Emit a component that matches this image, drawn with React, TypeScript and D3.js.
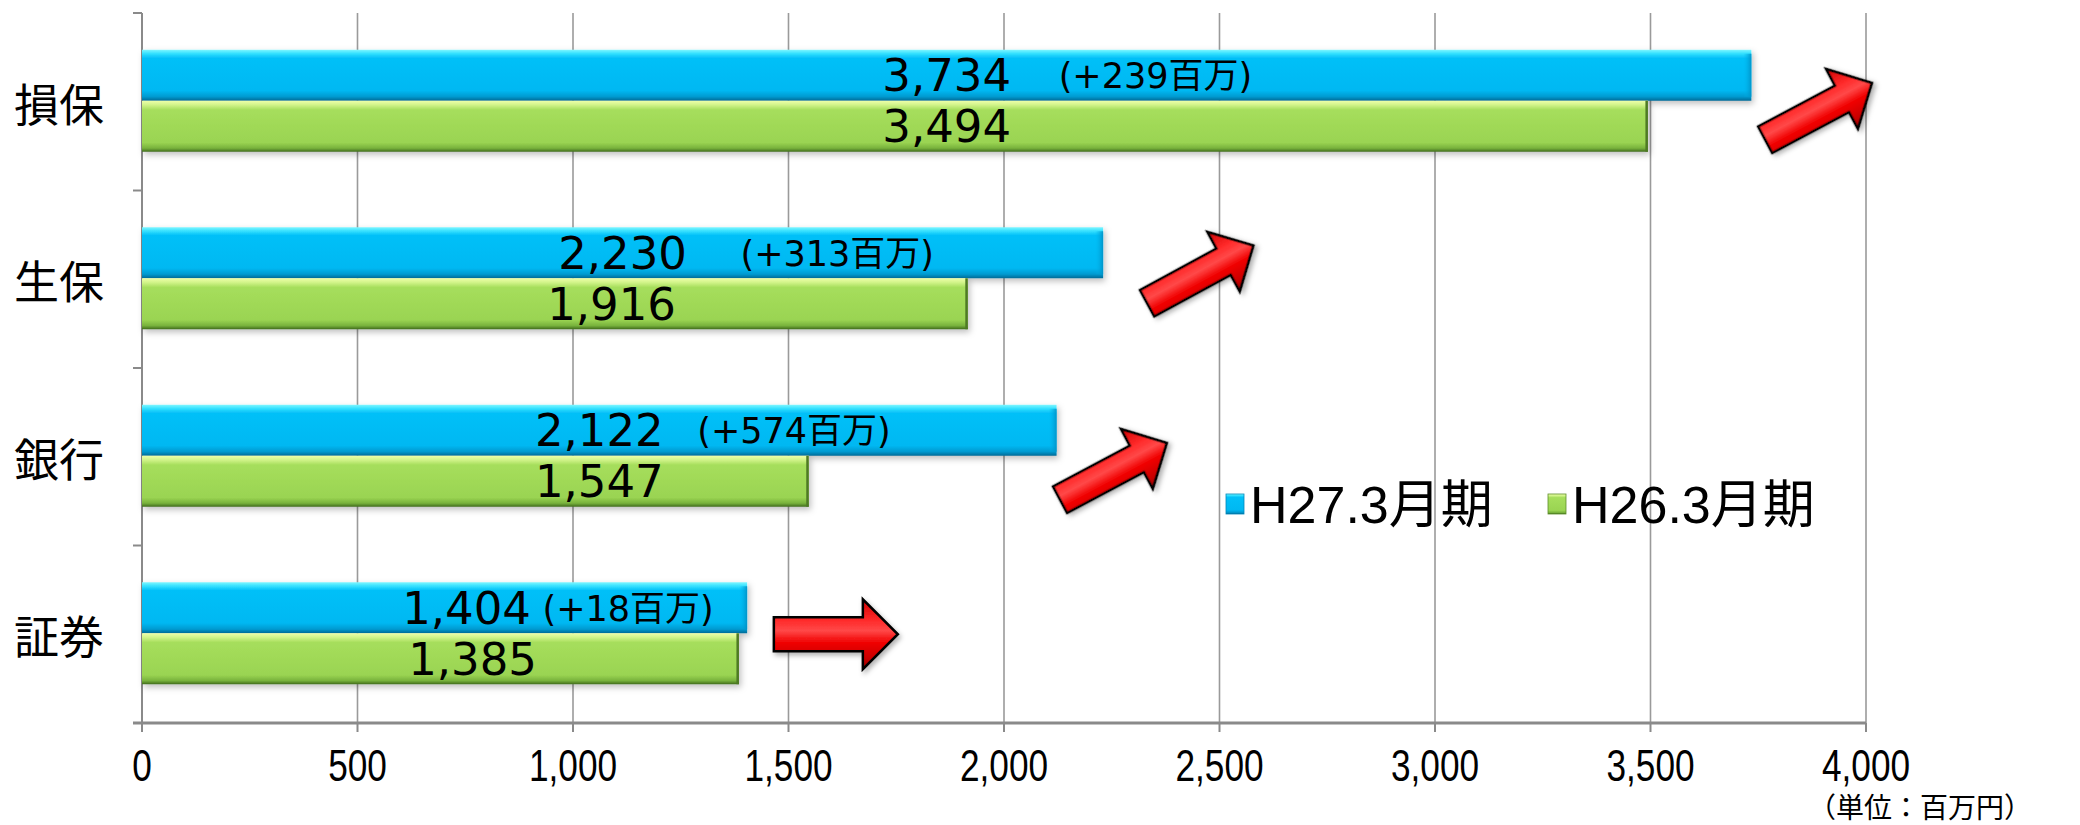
import React from "react";
import * as d3 from "d3";

// ---- data ----
const categories = ["損保", "生保", "銀行", "証券"];
const seriesNames = ["H27.3月期", "H26.3月期"];
const valuesH27 = [3734, 2230, 2122, 1404];
const valuesH26 = [3494, 1916, 1547, 1385];
const changeLabels = ["(+239百万)", "(+313百万)", "(+574百万)", "(+18百万)"];
const xTicks = [0, 500, 1000, 1500, 2000, 2500, 3000, 3500, 4000];
const unitLabel = "（単位：百万円）";

// ---- layout (not data) ----
const W = 2080;
const H = 825;
const plot = { left: 142, right: 1866, top: 13, bottom: 723 };
const barH = 51;
const labelDxBlue = [0, 0, 0, 22];
const labelDxGreen = [0, -11, 0, 28];
const annoDx = [112, 118, 98, 76];
// arrows: tail x in value units, y offset from band center, angle in degrees
const arrows = [
  { v: 3766, dy: 38, angle: -28, len: 121, s: 15, h: 34, hl: 34 },
  { v: 2332, dy: 24, angle: -28.5, len: 121, s: 15, h: 34, hl: 34 },
  { v: 2130, dy: 43, angle: -28, len: 121, s: 15, h: 34, hl: 34 },
  { v: 1466, dy: 0, angle: 0, len: 124, s: 17, h: 35, hl: 35 },
];

const fmt = d3.format(",");
const numFont = "'DejaVu Sans', 'Noto Sans CJK JP', sans-serif";
const tickFont = "'Liberation Sans', Arial, sans-serif";
const cjkFont = "'Noto Sans CJK JP', sans-serif";

export default function App() {
  const x = d3.scaleLinear().domain([0, 4000]).range([plot.left, plot.right]);
  const y = d3
    .scaleBand<string>()
    .domain(categories)
    .range([plot.top, plot.bottom])
    .paddingInner(0)
    .paddingOuter(0);
  const step = y.step();
  const boundaries = d3.range(categories.length + 1).map((i) => plot.top + i * step);

  const arrowPath = (a: typeof arrows[0]) =>
    `M0,${-a.s} L${a.len - a.hl},${-a.s} L${a.len - a.hl},${-a.h} L${a.len},0 L${a.len - a.hl},${a.h} L${a.len - a.hl},${a.s} L0,${a.s} Z`;

  return (
    <svg
      width={W}
      height={H}
      style={{ position: "absolute", left: 0, top: 0, background: "#fff" }}
    >
      <defs>
        <linearGradient id="gBlue" x1="0" y1="0" x2="0" y2="1">
          <stop offset="0" stopColor="#7FF6FF" />
          <stop offset="0.07" stopColor="#38E2FF" />
          <stop offset="0.16" stopColor="#02C0F8" />
          <stop offset="0.8" stopColor="#00B8F2" />
          <stop offset="0.92" stopColor="#009AD0" />
          <stop offset="1" stopColor="#006A96" />
        </linearGradient>
        <linearGradient id="gGreen" x1="0" y1="0" x2="0" y2="1">
          <stop offset="0" stopColor="#EEFFAA" />
          <stop offset="0.08" stopColor="#D2F48A" />
          <stop offset="0.18" stopColor="#A6DE5C" />
          <stop offset="0.82" stopColor="#9AD452" />
          <stop offset="0.93" stopColor="#78B23C" />
          <stop offset="1" stopColor="#3F6B1C" />
        </linearGradient>
        <linearGradient id="gBlueEnd" x1="0" y1="0" x2="1" y2="0">
          <stop offset="0" stopColor="#00B6EE" stopOpacity="0" />
          <stop offset="1" stopColor="#0090C4" stopOpacity="0.9" />
        </linearGradient>
        <filter id="shadow" x="-10%" y="-30%" width="120%" height="170%">
          <feDropShadow dx="2" dy="3" stdDeviation="3" floodColor="#000" floodOpacity="0.25" />
        </filter>
        <filter id="ashadow" x="-20%" y="-40%" width="140%" height="180%">
          <feDropShadow dx="2" dy="3" stdDeviation="2.5" floodColor="#000" floodOpacity="0.3" />
        </filter>
        {arrows.map((a, i) => (
          <linearGradient
            key={i}
            id={`gArrow${i}`}
            gradientUnits="userSpaceOnUse"
            x1="0"
            y1={-a.h}
            x2="0"
            y2={a.h}
          >
            <stop offset="0" stopColor="#D00000" />
            <stop offset="0.3" stopColor="#FF2A2A" />
            <stop offset="0.45" stopColor="#FF4848" />
            <stop offset="0.62" stopColor="#F00000" />
            <stop offset="0.85" stopColor="#C80000" />
            <stop offset="1" stopColor="#900000" />
          </linearGradient>
        ))}
      </defs>

      {/* gridlines */}
      {xTicks.slice(1).map((t) => (
        <line
          key={`g${t}`}
          x1={x(t)}
          x2={x(t)}
          y1={plot.top}
          y2={plot.bottom}
          stroke="#9a9a9a"
          strokeWidth={1.6}
        />
      ))}

      {/* y axis */}
      <line x1={plot.left} x2={plot.left} y1={plot.top} y2={plot.bottom} stroke="#8a8a8a" strokeWidth={2} />
      {boundaries.map((b, i) => (
        <line key={`yt${i}`} x1={plot.left - 9} x2={plot.left} y1={b} y2={b} stroke="#8a8a8a" strokeWidth={2} />
      ))}
      {/* x axis */}
      <line x1={plot.left - 9} x2={plot.right} y1={plot.bottom} y2={plot.bottom} stroke="#8a8a8a" strokeWidth={3} />
      {xTicks.map((t) => (
        <line key={`xt${t}`} x1={x(t)} x2={x(t)} y1={plot.bottom} y2={plot.bottom + 9} stroke="#8a8a8a" strokeWidth={2} />
      ))}
      {xTicks.map((t) => (
        <g key={`xl${t}`} transform={`translate(${x(t)},781) scale(0.8,1)`}>
          <text x={0} y={0} textAnchor="middle" fontFamily={tickFont} fontSize={44} fill="#000">
            {fmt(t)}
          </text>
        </g>
      ))}

      {/* category labels */}
      {categories.map((c) => (
        <text
          key={`c${c}`}
          x={104}
          y={(y(c) as number) + step / 2 + 20}
          textAnchor="end"
          fontFamily={cjkFont}
          fontSize={45}
          fill="#000"
        >
          {c}
        </text>
      ))}

      {/* bars */}
      {categories.map((c, i) => {
        const cy = (y(c) as number) + step / 2 - 1;
        const x0 = x(0);
        const xb = x(valuesH27[i]);
        const xg = x(valuesH26[i]);
        return (
          <g key={`b${c}`}>
            <g filter="url(#shadow)">
              <rect x={x0} y={cy - barH} width={xb - x0} height={barH} fill="url(#gBlue)" />
              <rect x={x0} y={cy} width={xg - x0} height={barH} fill="url(#gGreen)" />
            </g>
            <rect x={xb - 8} y={cy - barH + 4} width={8} height={barH - 8} fill="url(#gBlueEnd)" />
            <rect x={xg - 2.5} y={cy} width={2.5} height={barH} fill="#4E7A24" />
          </g>
        );
      })}

      {/* value labels */}
      {categories.map((c, i) => {
        const cy = (y(c) as number) + step / 2 - 1;
        const cxB = (x(0) + x(valuesH27[i])) / 2;
        const lxB = cxB + labelDxBlue[i];
        const lxG = cxB + labelDxGreen[i];
        return (
          <g key={`l${c}`} fontFamily={numFont} fill="#000">
            <text x={lxB} y={cy - barH / 2 + 16} textAnchor="middle" fontSize={45}>
              {fmt(valuesH27[i])}
            </text>
            <text x={lxB + annoDx[i]} y={cy - barH / 2 + 13} textAnchor="start" fontSize={35}>
              {changeLabels[i]}
            </text>
            <text x={lxG} y={cy + barH / 2 + 16} textAnchor="middle" fontSize={45}>
              {fmt(valuesH26[i])}
            </text>
          </g>
        );
      })}

      {/* arrows */}
      {arrows.map((a, i) => {
        const c = categories[i];
        const tx = x(a.v);
        const ty = (y(c) as number) + step / 2 + a.dy;
        return (
          <g key={`a${i}`} transform={`translate(${tx},${ty}) rotate(${a.angle})`} filter="url(#ashadow)">
            <path d={arrowPath(a)} fill={`url(#gArrow${i})`} stroke="#000" strokeWidth={2.5} strokeLinejoin="miter" />
          </g>
        );
      })}

      {/* legend */}
      <g>
        <rect x={1226} y={494} width={18} height={20} fill="url(#gBlue)" stroke="#0088BB" strokeWidth={0.8} />
        <text x={1250} y={523} fontFamily={"'Liberation Sans', 'Noto Sans CJK JP', sans-serif"} fontSize={52} fill="#000">
          {seriesNames[0]}
        </text>
        <rect x={1548} y={494} width={18} height={20} fill="url(#gGreen)" stroke="#5E8E2A" strokeWidth={0.8} />
        <text x={1572} y={523} fontFamily={"'Liberation Sans', 'Noto Sans CJK JP', sans-serif"} fontSize={52} fill="#000">
          {seriesNames[1]}
        </text>
      </g>

      {/* unit */}
      <text x={2032} y={818} textAnchor="end" fontFamily={cjkFont} fontSize={28} fill="#000">
        {unitLabel}
      </text>
    </svg>
  );
}
